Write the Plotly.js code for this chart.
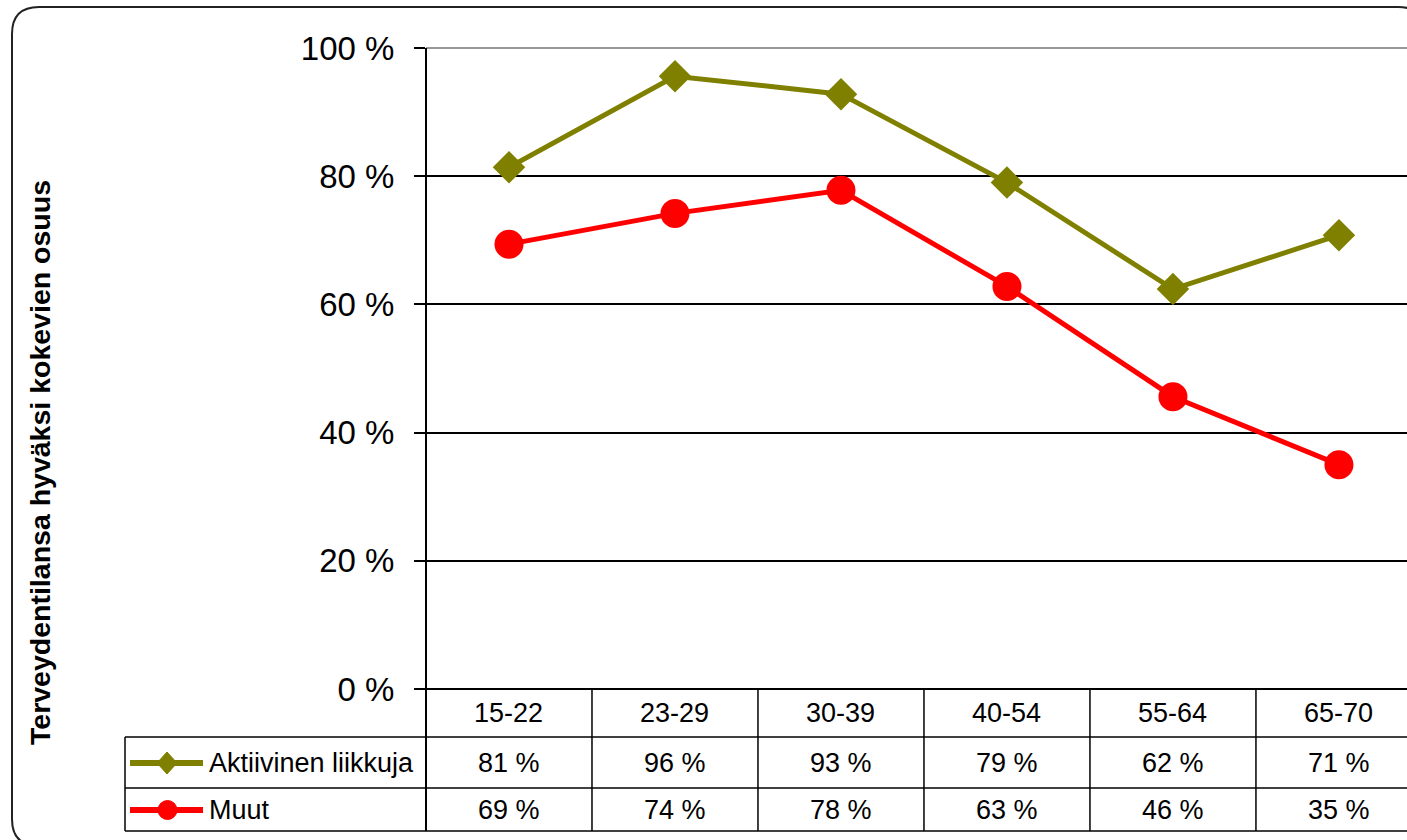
<!DOCTYPE html>
<html>
<head>
<meta charset="utf-8">
<script src="https://cdn.plot.ly/plotly-3.0.1.min.js"></script>
<style>html,body{margin:0;padding:0;background:#fff;}#chart{width:1407px;height:840px;}</style>
</head>
<body>
<div id="chart"></div>
<script>
const categories = ['15-22', '23-29', '30-39', '40-54', '55-64', '65-70'];
const aktiivinen = [81.4, 95.6, 92.8, 79.0, 62.4, 70.8];
const muut = [69.4, 74.2, 77.8, 62.8, 45.6, 35.0];
const seriesNames = ['Aktiivinen liikkuja', 'Muut'];
const seriesColors = ['#808000', '#FF0000'];
const yTicks = [0, 20, 40, 60, 80, 100];
const yTitle = 'Terveydentilansa hyväksi kokevien osuus';

const W = 1407, H = 840;
const L = 426, T = 48, B = 689;
const PW = W - L, PH = B - T;
const xRange = [-0.5, 5.41];
const FONT = 'Arial, "Liberation Sans", sans-serif';

const px = x => (x - L) / PW;
const py = y => (B - y) / PH;
const catPaper = i => (i - xRange[0]) / (xRange[1] - xRange[0]);

const shapes = [];
const annotations = [];
function hline(y, x0, x1, color, w) {
  shapes.push({type: 'line', xref: 'paper', yref: 'paper', x0: px(x0), x1: px(x1), y0: py(y), y1: py(y),
    line: {color: color || '#000', width: w || 1.5}});
}
function vlinePaper(xp, y0, y1, color, w) {
  shapes.push({type: 'line', xref: 'paper', yref: 'paper', x0: xp, x1: xp, y0: py(y0), y1: py(y1),
    line: {color: color || '#000', width: w || 1.5}});
}

// top border of plot area (grey)
hline(T, L, 1430, '#999999', 2);
// table rows
const rowTop = B, row1 = 737, row2 = 788, rowBot = 831, tableLeft = 125;
hline(rowTop, L - 11, 1430, '#000', 2);
hline(row1, tableLeft, 1430);
hline(row2, tableLeft, 1430);
hline(rowBot, tableLeft, 1430);
vlinePaper(px(tableLeft), row1, rowBot);
vlinePaper(0, T, rowBot, '#000', 2);
for (let i = 0; i < categories.length; i++) {
  vlinePaper(catPaper(i + 0.5), rowTop, rowBot);
}

// outer rounded frame
(function () {
  const x0 = 12, y0 = 7, x1 = 1425, y1 = 846, r = 27;
  const p = (x, y) => px(x) + ',' + py(y);
  const path = 'M' + p(x0, y0 + r) + ' Q' + p(x0, y0) + ' ' + p(x0 + r, y0) +
    ' L' + p(x1 - r, y0) + ' Q' + p(x1, y0) + ' ' + p(x1, y0 + r) +
    ' L' + p(x1, y1 - r) + ' Q' + p(x1, y1) + ' ' + p(x1 - r, y1) +
    ' L' + p(x0 + r, y1) + ' Q' + p(x0, y1) + ' ' + p(x0, y1 - r) + ' Z';
  shapes.push({type: 'path', xref: 'paper', yref: 'paper', path: path, line: {color: '#222', width: 2}});
})();

// table text
const rowCenters = [713, 763, 810];
categories.forEach((c, i) => {
  annotations.push({xref: 'paper', yref: 'paper', x: catPaper(i), y: py(rowCenters[0]), text: c,
    showarrow: false, xanchor: 'center', yanchor: 'middle', font: {family: FONT, size: 27, color: '#000'}});
});
[aktiivinen, muut].forEach((vals, s) => {
  vals.forEach((v, i) => {
    annotations.push({xref: 'paper', yref: 'paper', x: catPaper(i), y: py(rowCenters[s + 1]),
      text: Math.round(v) + ' %', showarrow: false, xanchor: 'center', yanchor: 'middle',
      font: {family: FONT, size: 27, color: '#000'}});
  });
  // legend key
  const cy = rowCenters[s + 1];
  shapes.push({type: 'line', xref: 'paper', yref: 'paper', x0: px(130), x1: px(203), y0: py(cy), y1: py(cy),
    line: {color: seriesColors[s], width: 6}});
  if (s === 0) {
    const cx = 167;
    const p = (x, y) => px(x) + ',' + py(y);
    shapes.push({type: 'path', xref: 'paper', yref: 'paper',
      path: 'M' + p(cx, cy - 11) + ' L' + p(cx + 10, cy) + ' L' + p(cx, cy + 11) + ' L' + p(cx - 10, cy) + ' Z',
      fillcolor: seriesColors[s], line: {color: seriesColors[s], width: 1}});
  } else {
    shapes.push({type: 'circle', xref: 'paper', yref: 'paper', x0: px(158), x1: px(177), y0: py(cy - 9.5), y1: py(cy + 9.5),
      fillcolor: seriesColors[s], line: {color: seriesColors[s], width: 1}});
  }
  annotations.push({xref: 'paper', yref: 'paper', x: px(207), y: py(cy), text: seriesNames[s],
    showarrow: false, xanchor: 'left', yanchor: 'middle', font: {family: FONT, size: 27, color: '#000'}});
});

// y-axis title
annotations.push({xref: 'paper', yref: 'paper', x: px(40), y: py(463), text: '<b>' + yTitle + '</b>',
  textangle: -90, showarrow: false, xanchor: 'center', yanchor: 'middle',
  font: {family: FONT, size: 28.5, color: '#000'}});

const traces = [
  {x: categories, y: aktiivinen, name: seriesNames[0], type: 'scatter', mode: 'lines+markers',
   line: {color: seriesColors[0], width: 5}, marker: {symbol: 'diamond', size: 25, color: seriesColors[0]},
   cliponaxis: false},
  {x: categories, y: muut, name: seriesNames[1], type: 'scatter', mode: 'lines+markers',
   line: {color: seriesColors[1], width: 5}, marker: {symbol: 'circle', size: 29, color: seriesColors[1]},
   cliponaxis: false}
];

const layout = {
  width: W, height: H,
  margin: {l: L, r: 0, t: T, b: H - B, pad: 0},
  paper_bgcolor: '#ffffff', plot_bgcolor: '#ffffff',
  showlegend: false,
  xaxis: {type: 'category', range: xRange, showticklabels: false, showgrid: false, zeroline: false,
    showline: false, ticks: ''},
  yaxis: {range: [0, 100], tickvals: yTicks, ticktext: yTicks.map(v => v + ' %'),
    showgrid: true, gridcolor: '#000000', gridwidth: 2, zeroline: false,
    showline: false, ticks: 'outside', ticklen: 11, tickwidth: 2, tickcolor: '#000',
    ticklabelstandoff: 13,
    tickfont: {family: FONT, size: 33, color: '#000'}},
  shapes: shapes,
  annotations: annotations
};

Plotly.newPlot('chart', traces, layout, {displayModeBar: false, staticPlot: true});
</script>
</body>
</html>
